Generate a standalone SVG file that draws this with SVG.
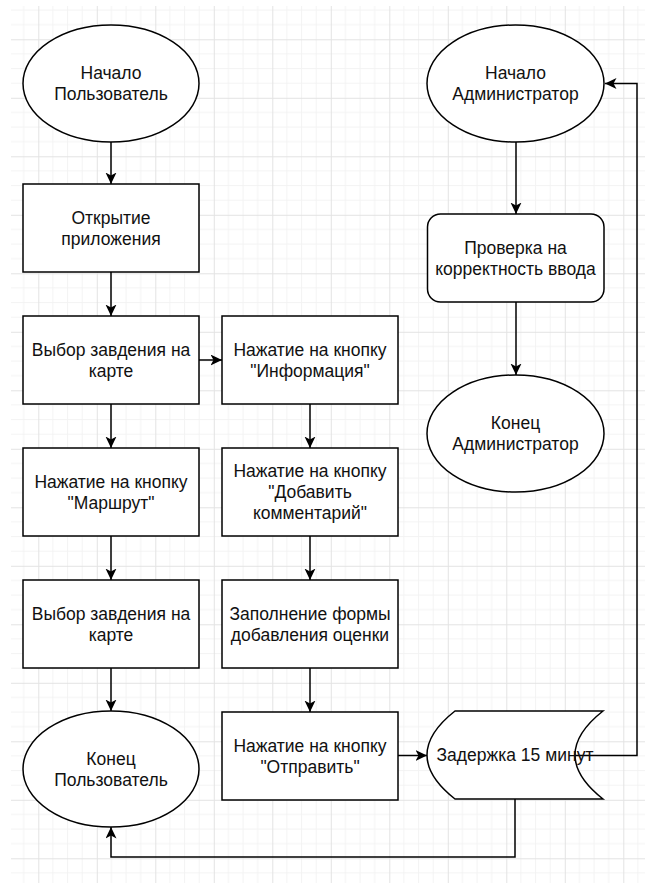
<svg xmlns="http://www.w3.org/2000/svg" width="645" height="883" viewBox="0 0 645 883">
  <defs>
    <pattern id="grid" patternUnits="userSpaceOnUse" x="38.3" y="39.3" width="58.5" height="58.5">
      <path d="M14.625,0 V58.5 M29.25,0 V58.5 M43.875,0 V58.5 M0,14.625 H58.5 M0,29.25 H58.5 M0,43.875 H58.5" stroke="#f3f3f3" stroke-width="1" fill="none"/>
      <path d="M0.5,0 V58.5 M0,0.5 H58.5" stroke="#e3e3e3" stroke-width="1" fill="none"/>
    </pattern>
    <marker id="arrow" markerUnits="userSpaceOnUse" markerWidth="12" markerHeight="12" refX="11.5" refY="5.5" orient="auto">
      <path d="M0,0 L11.5,5.5 L0,11 L3,5.5 Z" fill="#000"/>
    </marker>
  </defs>
  <style>
    .shape { fill: #fff; stroke: #000; stroke-width: 1.5; }
    .label { font-family: "Liberation Sans", Arial, sans-serif; font-size: 17.5px; fill: #111; text-anchor: middle; }
    .edge { fill: none; stroke: #000; stroke-width: 1.5; marker-end: url(#arrow); }
  </style>

  <!-- background grid -->
  <rect x="0" y="0" width="645" height="883" fill="#fff"/>
  <rect x="11" y="6" width="634" height="877" fill="url(#grid)"/>

  <!-- connectors -->
  <g id="connectors">
    <path class="edge" d="M111,142 L111,184"/>
    <path class="edge" d="M111,272 L111,316"/>
    <path class="edge" d="M111,404 L111,448"/>
    <path class="edge" d="M111,536 L111,580"/>
    <path class="edge" d="M111,668 L111,711"/>
    <path class="edge" d="M199,360 L222,360"/>
    <path class="edge" d="M310,404 L310,448"/>
    <path class="edge" d="M310,536 L310,580"/>
    <path class="edge" d="M310,668 L310,712"/>
    <path class="edge" d="M398,755.5 L427,755.5"/>
    <path class="edge" d="M575,755.5 L637,755.5 L637,83.5 L605,83.5"/>
    <path class="edge" d="M515,799 L515,857 L111,857 L111,827"/>
    <path class="edge" d="M516,142 L516,214"/>
    <path class="edge" d="M516,302 L516,375"/>
  </g>

  <!-- user flow -->
  <g id="start-user">
    <ellipse class="shape" cx="111" cy="83.5" rx="88" ry="58.5"/>
    <text class="label" x="111" y="79">Начало</text>
    <text class="label" x="111" y="100">Пользователь</text>
  </g>
  <g id="open-app">
    <rect class="shape" x="23" y="184" width="176" height="88"/>
    <text class="label" x="111" y="223.5">Открытие</text>
    <text class="label" x="111" y="244.5">приложения</text>
  </g>
  <g id="select-place-1">
    <rect class="shape" x="23" y="316" width="176" height="88"/>
    <text class="label" x="111" y="355.5">Выбор завдения на</text>
    <text class="label" x="111" y="376.5">карте</text>
  </g>
  <g id="route-button">
    <rect class="shape" x="23" y="448" width="176" height="88"/>
    <text class="label" x="111" y="487.5">Нажатие на кнопку</text>
    <text class="label" x="111" y="508.5">"Маршрут"</text>
  </g>
  <g id="select-place-2">
    <rect class="shape" x="23" y="580" width="176" height="88"/>
    <text class="label" x="111" y="619.5">Выбор завдения на</text>
    <text class="label" x="111" y="640.5">карте</text>
  </g>
  <g id="end-user">
    <ellipse class="shape" cx="111" cy="769" rx="88" ry="58"/>
    <text class="label" x="111" y="764.5">Конец</text>
    <text class="label" x="111" y="785.5">Пользователь</text>
  </g>

  <!-- review flow -->
  <g id="info-button">
    <rect class="shape" x="222" y="316" width="176" height="88"/>
    <text class="label" x="310" y="355.5">Нажатие на кнопку</text>
    <text class="label" x="310" y="376.5">"Информация"</text>
  </g>
  <g id="add-comment-button">
    <rect class="shape" x="222" y="448" width="176" height="88"/>
    <text class="label" x="310" y="477">Нажатие на кнопку</text>
    <text class="label" x="310" y="498">"Добавить</text>
    <text class="label" x="310" y="519">комментарий"</text>
  </g>
  <g id="fill-rating-form">
    <rect class="shape" x="222" y="580" width="176" height="88"/>
    <text class="label" x="310" y="619.5">Заполнение формы</text>
    <text class="label" x="310" y="640.5">добавления оценки</text>
  </g>
  <g id="send-button">
    <rect class="shape" x="222" y="712" width="176" height="88"/>
    <text class="label" x="310" y="751.5">Нажатие на кнопку</text>
    <text class="label" x="310" y="772.5">"Отправить"</text>
  </g>

  <!-- admin flow -->
  <g id="start-admin">
    <ellipse class="shape" cx="515.5" cy="83.5" rx="88.5" ry="58.5"/>
    <text class="label" x="515.5" y="79">Начало</text>
    <text class="label" x="515.5" y="100">Администратор</text>
  </g>
  <g id="input-check">
    <rect class="shape" x="427.5" y="214" width="176.5" height="88" rx="13" ry="13"/>
    <text class="label" x="515.5" y="253.5">Проверка на</text>
    <text class="label" x="515.5" y="274.5">корректность ввода</text>
  </g>
  <g id="end-admin">
    <ellipse class="shape" cx="515.5" cy="433.5" rx="88.5" ry="58.5"/>
    <text class="label" x="515.5" y="429">Конец</text>
    <text class="label" x="515.5" y="450">Администратор</text>
  </g>
  <g id="delay">
    <path class="shape" d="M455,711 L603,711 Q547,755 603,799 L455,799 Q399,755 455,711 Z"/>
    <text class="label" x="515" y="761">Задержка 15 минут</text>
  </g>
</svg>
